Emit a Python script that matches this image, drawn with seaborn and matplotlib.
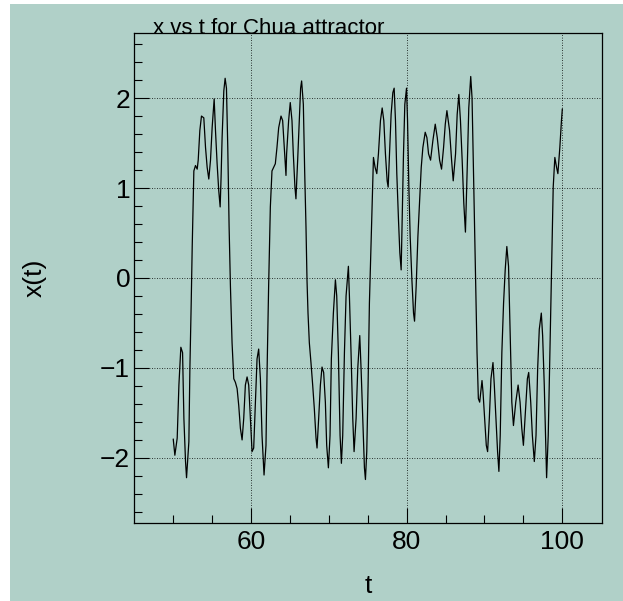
import numpy as np
import pandas as pd
import seaborn as sns
import matplotlib.pyplot as plt
from matplotlib.patches import Rectangle
from matplotlib.ticker import FixedLocator

# valores (t, x)
t_vals = [
    50.00, 50.21, 50.51, 50.73, 50.98, 51.20, 51.37, 51.58, 51.71, 52.01,
    52.14, 52.31, 52.44, 52.65, 52.86, 53.08, 53.21, 53.42, 53.63, 53.93,
    54.15, 54.36, 54.57, 54.79, 55.00, 55.26, 55.43, 55.64, 55.85, 56.03,
    56.15, 56.28, 56.50, 56.67, 56.84, 57.01, 57.18, 57.35, 57.56, 57.78,
    57.99, 58.21, 58.42, 58.63, 58.85, 59.06, 59.27, 59.49, 59.70, 59.91,
    60.13, 60.34, 60.56, 60.77, 60.98, 61.20, 61.41, 61.67, 61.92, 62.05,
    62.26, 62.48, 62.69, 62.91, 63.12, 63.33, 63.55, 63.85, 64.06, 64.27,
    64.49, 64.57, 64.83, 65.04, 65.26, 65.43, 65.64, 65.77, 65.99, 66.20,
    66.37, 66.50, 66.72, 66.89, 67.06, 67.19, 67.32, 67.49, 67.70, 67.92,
    68.13, 68.35, 68.48, 68.69, 68.91, 69.12, 69.33, 69.55, 69.72, 69.94,
    70.15, 70.32, 70.58, 70.84, 71.01, 71.22, 71.44, 71.61, 71.78, 72.00,
    72.21, 72.51, 72.64, 72.85, 73.07, 73.24, 73.50, 73.71, 73.97, 74.14,
    74.36, 74.57, 74.70, 74.87, 75.04, 75.21, 75.39, 75.56, 75.73, 75.94,
    76.16, 76.37, 76.63, 76.85, 77.06, 77.27, 77.49, 77.62, 77.79, 78.00,
    78.22, 78.39, 78.56, 78.73, 78.95, 79.12, 79.29, 79.42, 79.59, 79.76,
    79.98, 80.11, 80.28, 80.45, 80.67, 80.88, 81.01, 81.22, 81.44, 81.65,
    81.87, 82.08, 82.38, 82.60, 82.81, 83.07, 83.37, 83.67, 83.93, 84.23,
    84.48, 84.74, 84.96, 85.17, 85.51, 85.77, 85.98, 86.28, 86.49, 86.70,
    86.91, 87.13, 87.34, 87.55, 87.77, 87.98, 88.23, 88.40, 88.62, 88.83,
    89.04, 89.21, 89.38, 89.68, 89.81, 90.02, 90.23, 90.40, 90.62, 90.83,
    91.09, 91.26, 91.47, 91.68, 91.85, 92.02, 92.23, 92.45, 92.66, 92.87,
    93.09, 93.30, 93.51, 93.72, 94.02, 94.32, 94.57, 94.79, 95.00, 95.21,
    95.51, 95.68, 95.94, 96.15, 96.40, 96.62, 96.83, 97.04, 97.30, 97.47,
    97.68, 97.89, 97.98, 98.19, 98.40, 98.62, 98.83, 99.04, 99.26, 99.43,
    99.68, 99.89, 100.00,
]
x_vals = [
    -1.79, -1.97, -1.78, -1.19, -0.77, -0.83, -1.56, -2.04, -2.22, -1.82,
    -1.01, -0.28, 0.35, 1.19, 1.25, 1.21, 1.31, 1.64, 1.80, 1.78,
    1.45, 1.23, 1.10, 1.31, 1.67, 1.99, 1.64, 1.27, 0.97, 0.79,
    1.12, 1.56, 2.08, 2.22, 2.11, 1.45, 0.57, -0.09, -0.72, -1.12,
    -1.16, -1.23, -1.42, -1.67, -1.80, -1.56, -1.19, -1.10, -1.19, -1.56,
    -1.93, -1.89, -1.38, -0.90, -0.79, -1.12, -1.75, -2.19, -1.86, -1.08,
    -0.09, 0.79, 1.19, 1.23, 1.27, 1.45, 1.67, 1.80, 1.75, 1.45,
    1.14, 1.38, 1.75, 1.95, 1.75, 1.38, 1.01, 0.88, 1.31, 1.75,
    2.11, 2.19, 1.93, 1.19, 0.57, -0.02, -0.39, -0.72, -0.94, -1.19,
    -1.45, -1.78, -1.89, -1.56, -1.19, -0.99, -1.05, -1.38, -1.86, -2.11,
    -1.75, -0.90, -0.39, -0.02, -0.20, -0.83, -1.75, -2.06, -1.75, -0.83,
    -0.20, 0.13, -0.20, -0.83, -1.56, -1.93, -1.56, -1.01, -0.64, -1.01,
    -1.56, -2.11, -2.24, -1.93, -1.19, -0.28, 0.28, 0.83, 1.34, 1.23,
    1.16, 1.38, 1.75, 1.89, 1.75, 1.38, 1.08, 1.01, 1.38, 1.82,
    2.06, 2.11, 1.75, 1.16, 0.64, 0.28, 0.09, 0.64, 1.38, 1.93,
    2.11, 1.75, 1.01, 0.46, -0.02, -0.39, -0.48, -0.09, 0.46, 0.83,
    1.23, 1.45, 1.62, 1.56, 1.38, 1.31, 1.53, 1.71, 1.56, 1.31,
    1.21, 1.45, 1.71, 1.86, 1.64, 1.31, 1.08, 1.38, 1.82, 2.04,
    1.75, 1.31, 0.83, 0.51, 1.19, 1.89, 2.24, 2.00, 1.01, 0.09,
    -0.83, -1.34, -1.38, -1.14, -1.27, -1.56, -1.86, -1.93, -1.56, -1.12,
    -0.94, -1.19, -1.56, -1.93, -2.15, -1.75, -0.83, -0.28, 0.09, 0.35,
    0.13, -0.64, -1.38, -1.64, -1.38, -1.19, -1.38, -1.67, -1.86, -1.56,
    -1.12, -1.05, -1.38, -1.75, -2.04, -1.75, -1.01, -0.57, -0.39, -0.64,
    -1.19, -1.93, -2.22, -1.75, -0.83, 0.09, 1.01, 1.34, 1.23, 1.16,
    1.45, 1.75, 1.88,
]

x_ticks = [60, 80, 100]
x_minor = [50, 55, 65, 70, 75, 85, 90, 95]
y_ticks = [-2, -1, 0, 1, 2]
y_labels = ['\u22122', '\u22121', '0', '1', '2']

fondo = '#b0d0c8'

df = pd.DataFrame({'t': t_vals, 'x': x_vals})

sns.set_style("ticks")
plt.rcParams['font.family'] = ['Liberation Sans', 'DejaVu Sans']
plt.rcParams['text.color'] = 'black'

fig = plt.figure(figsize=(6.23, 6.01), dpi=100)
fig.patch.set_facecolor('white')
# zona coloreada del canvas (borde blanco arriba e izquierda)
fig.patches.append(Rectangle((10 / 623, 0), 1 - 10 / 623, 1 - 4 / 601,
                             transform=fig.transFigure, facecolor=fondo,
                             edgecolor='none', zorder=-10))

ax = fig.add_axes([0.2156, 0.1303, 0.7507, 0.8143])
ax.set_facecolor(fondo)

sns.lineplot(data=df, x='t', y='x', ax=ax, color='black', linewidth=0.9,
             estimator=None, sort=False)

ax.set_xlim(45, 105.1)
ax.set_ylim(-2.72, 2.72)

ax.set_xticks(x_ticks)
ax.set_yticks(y_ticks)
ax.set_yticklabels(y_labels)
ax.xaxis.set_minor_locator(FixedLocator(x_minor))
ax.yaxis.set_minor_locator(FixedLocator(np.arange(-2.6, 2.7, 0.2)))

ax.tick_params(which='major', direction='in', length=11, width=0.8,
               labelsize=19, colors='black', labelcolor='black',
               top=False, right=False)
ax.tick_params(which='minor', direction='in', length=5.5, width=0.8,
               colors='black', top=False, right=False)
ax.tick_params(axis='y', which='major', pad=3)
ax.tick_params(axis='x', which='major', pad=5)

ax.grid(True, which='major', color='black', linestyle=(0, (1, 2)), linewidth=0.6)

for s in ax.spines.values():
    s.set_visible(True)
    s.set_color('black')
    s.set_linewidth(0.9)

ax.set_xlabel('')
ax.set_ylabel('')
fig.text(368 / 623, 1 - 593 / 601, 't', ha='center', va='baseline',
         fontsize=19, color='black')
fig.text(35 / 623, 1 - 278 / 601, 'x(t)', ha='center', va='center',
         rotation=90, fontsize=19, color='black')
fig.text(269 / 623, 1 - 33.5 / 601, 'x vs t for Chua attractor',
         ha='center', va='baseline', fontsize=16, color='black')

fig.savefig('out.png', dpi=100, facecolor=fig.get_facecolor())
